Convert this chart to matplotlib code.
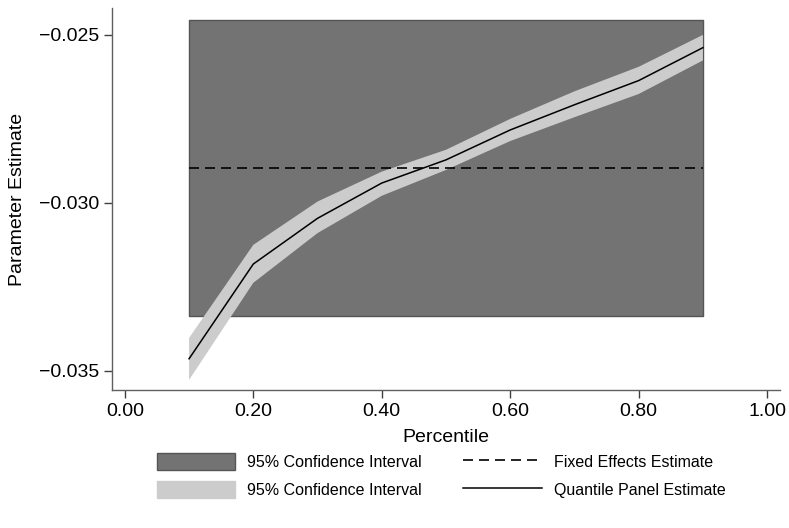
import matplotlib
matplotlib.use("Agg")
import matplotlib.pyplot as plt
import matplotlib.patches as mpatches
from matplotlib.lines import Line2D

plt.rcParams['font.family'] = ['Liberation Sans', 'DejaVu Sans']

# ---- data ----
percentiles = [0.1, 0.2, 0.3, 0.4, 0.5, 0.6, 0.7, 0.8, 0.9]
quantile_est = [-0.03464, -0.03182, -0.03046, -0.02941, -0.02872, -0.02783, -0.02708, -0.02636, -0.02538]
quantile_upper = [-0.03402, -0.03125, -0.02996, -0.02907, -0.02842, -0.02750, -0.02668, -0.02595, -0.02500]
quantile_lower = [-0.03527, -0.03238, -0.03090, -0.02979, -0.02902, -0.02816, -0.02745, -0.02676, -0.02576]
fe_est = -0.02896
fe_lower = -0.03336
fe_upper = -0.02455
fe_range = [0.1, 0.9]

xticks = [0.0, 0.2, 0.4, 0.6, 0.8, 1.0]
xticklabels = ["0.00", "0.20", "0.40", "0.60", "0.80", "1.00"]
yticks = [-0.035, -0.030, -0.025]
yticklabels = ["\u22120.035", "\u22120.030", "\u22120.025"]

W, H = 789, 528
fig = plt.figure(figsize=(W / 100, H / 100), dpi=100)
ax = fig.add_axes([112 / W, 1 - 390 / H, (780 - 112) / W, (390 - 8) / H])

dark = '#737373'
dark_edge = '#555555'
light = '#cccccc'

# fixed-effects confidence interval box
ax.fill_between(fe_range, [fe_lower, fe_lower], [fe_upper, fe_upper],
                facecolor=dark, edgecolor=dark_edge, linewidth=1.0, zorder=1)
# quantile CI band
ax.fill_between(percentiles, quantile_lower, quantile_upper,
                facecolor=light, edgecolor='none', zorder=2)
# fixed effects estimate
ax.plot(fe_range, [fe_est, fe_est], color='black', linewidth=1.2,
        dashes=(6, 3.6), zorder=3)
# quantile estimate
ax.plot(percentiles, quantile_est, color='black', linewidth=1.1, zorder=4)

ax.set_xlim(-0.02, 1.02)
ax.set_ylim(-0.03557, -0.0242)
ax.set_xticks(xticks, xticklabels)
ax.set_yticks(yticks, yticklabels)

for s in ['top', 'right']:
    ax.spines[s].set_visible(False)
for s in ['left', 'bottom']:
    ax.spines[s].set_color('#606060')
    ax.spines[s].set_linewidth(1.0)
ax.tick_params(axis='both', direction='out', length=5.8, width=1.0,
               color='#404040', labelsize=14, pad=3.6, labelcolor='black')

ax.set_xlabel("Percentile", fontsize=14)
ax.xaxis.set_label_coords(0.5, -0.102)
ax.set_ylabel("Parameter Estimate", fontsize=14)
ax.yaxis.set_label_coords(-0.128, 0.5)

handles = [
    mpatches.Patch(facecolor=dark, edgecolor=dark_edge, linewidth=1.0),
    mpatches.Patch(facecolor=light, edgecolor=light, linewidth=1.0),
    Line2D([0], [0], color='black', linewidth=1.2, dashes=(6, 3.6)),
    Line2D([0], [0], color='black', linewidth=1.1),
]
labels = ["95% Confidence Interval", "95% Confidence Interval",
          "Fixed Effects Estimate", "Quantile Panel Estimate"]
fig.legend(handles, labels, ncol=2, loc='upper left',
           bbox_to_anchor=(157 / W, 1 - 453 / H), frameon=False,
           fontsize=11.5, handlelength=4.9, handleheight=1.25,
           handletextpad=0.75, columnspacing=2.6, labelspacing=0.72,
           borderpad=0, borderaxespad=0)

fig.savefig("out.png", dpi=100)
